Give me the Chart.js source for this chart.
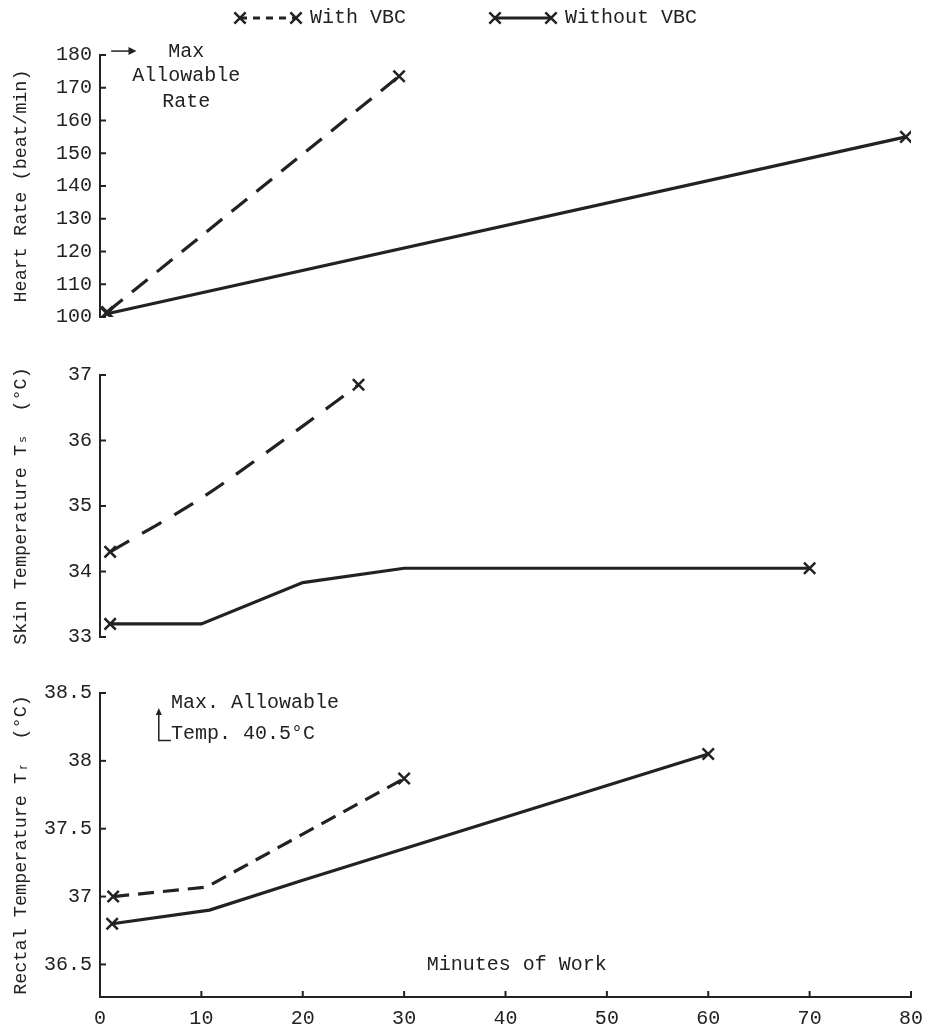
<!DOCTYPE html>
<html lang="en">
<head>
  <meta charset="UTF-8">
  <title>Heart rate, skin and rectal temperature vs minutes of work</title>
  <script src="https://cdn.jsdelivr.net/npm/chart.js"></script>
  <style>
    body { margin: 0; background: #fff; }
    .panel { position: absolute; left: 0; width: 927px; }
  </style>
</head>
<body>
  <div class="panel" style="top:0"><canvas id="heart" width="927" height="340"></canvas></div>
  <div class="panel" style="top:340px"><canvas id="skin" width="927" height="330"></canvas></div>
  <div class="panel" style="top:670px"><canvas id="rectal" width="927" height="362"></canvas></div>

  <script>
    // values
    const minuteTicks = [0, 10, 20, 30, 40, 50, 60, 70, 80];
    const heartTicks = [100, 110, 120, 130, 140, 150, 160, 170, 180];
    const skinTicks = [33, 34, 35, 36, 37];
    const rectalTicks = [36.5, 37, 37.5, 38, 38.5];

    const heartWithMin = [0.7, 29.5];
    const heartWithRate = [101.5, 173.5];
    const heartWithoutMin = [0.7, 79.5];
    const heartWithoutRate = [101, 155];

    const skinWithMin = [1, 10, 20, 25.5];
    const skinWithTemp = [34.3, 35.12, 36.22, 36.85];
    const skinWithoutMin = [1, 10, 20, 30, 70];
    const skinWithoutTemp = [33.2, 33.2, 33.83, 34.05, 34.05];

    const rectalWithMin = [1.3, 10.5, 30];
    const rectalWithTemp = [37.0, 37.07, 37.87];
    const rectalWithoutMin = [1.2, 10.8, 20, 60];
    const rectalWithoutTemp = [36.8, 36.9, 37.12, 38.05];

    const INK = '#222';
    const FONT = "'Liberation Mono', 'DejaVu Sans Mono', monospace";

    function pts(xs, ys) { return xs.map((x, i) => ({ x: x, y: ys[i] })); }

    // crosses only at the ends of a line
    function endPoints(ctx) {
      const n = ctx.dataset.data.length;
      return (ctx.dataIndex === 0 || ctx.dataIndex === n - 1) ? 8 : 0;
    }

    function series(label, xs, ys, dash, tension) {
      return {
        label: label,
        data: pts(xs, ys),
        borderColor: INK,
        backgroundColor: INK,
        borderWidth: 3.2,
        borderDash: dash,
        pointStyle: 'crossRot',
        pointRadius: endPoints,
        pointBorderWidth: 2.5,
        pointBorderColor: INK,
        tension: tension || 0
      };
    }

    // small ticks pointing into the plot
    const innerTicks = {
      id: 'innerTicks',
      afterDraw(chart) {
        const c = chart.ctx;
        c.save();
        c.strokeStyle = INK;
        c.lineWidth = 2;
        const y = chart.scales.y;
        y.ticks.forEach(t => {
          const py = y.getPixelForValue(t.value);
          c.beginPath(); c.moveTo(y.right, py); c.lineTo(y.right + 6, py); c.stroke();
        });
        const x = chart.scales.x;
        if (x.options.display) {
          x.ticks.forEach(t => {
            const px = x.getPixelForValue(t.value);
            c.beginPath(); c.moveTo(px, x.top); c.lineTo(px, x.top - 6); c.stroke();
          });
        }
        c.restore();
      }
    };

    // notes written on the figure
    const notes = {
      id: 'notes',
      afterDraw(chart, args, opts) {
        const c = chart.ctx, x = chart.scales.x, y = chart.scales.y;
        c.save();
        c.fillStyle = INK; c.strokeStyle = INK; c.lineWidth = 1.5;
        c.font = '20px ' + FONT;
        c.textBaseline = 'middle';
        if (opts.kind === 'heart') {
          const ay = y.getPixelForValue(181.2);
          const x1 = x.getPixelForValue(1.1), x2 = x.getPixelForValue(3.6);
          c.beginPath(); c.moveTo(x1, ay); c.lineTo(x2 - 6, ay); c.stroke();
          c.beginPath(); c.moveTo(x2, ay); c.lineTo(x2 - 8, ay - 4); c.lineTo(x2 - 8, ay + 4); c.closePath(); c.fill();
          c.textAlign = 'center';
          const cx = x.getPixelForValue(8.5);
          c.fillText('Max', cx, y.getPixelForValue(180.9));
          c.fillText('Allowable', cx, y.getPixelForValue(173.8));
          c.fillText('Rate', cx, y.getPixelForValue(165.6));

          // legend line at the very top
          const legend = [
            { x: 240, label: 'With VBC', dash: [7, 6] },
            { x: 495, label: 'Without VBC', dash: [] }
          ];
          const ly = 18;
          legend.forEach(l => {
            c.lineWidth = 3;
            c.setLineDash(l.dash);
            c.beginPath(); c.moveTo(l.x, ly); c.lineTo(l.x + 56, ly); c.stroke();
            c.setLineDash([]);
            c.lineWidth = 2.5;
            Chart.helpers.drawPoint(c, { pointStyle: 'crossRot', radius: 8, borderWidth: 2.5 }, l.x, ly);
            Chart.helpers.drawPoint(c, { pointStyle: 'crossRot', radius: 8, borderWidth: 2.5 }, l.x + 56, ly);
            c.textAlign = 'left';
            c.fillText(l.label, l.x + 70, ly);
          });
        }
        if (opts.kind === 'rectal') {
          const ax = x.getPixelForValue(5.8);
          const top = y.getPixelForValue(38.39), bot = y.getPixelForValue(38.15);
          c.beginPath(); c.moveTo(ax, top + 5); c.lineTo(ax, bot); c.lineTo(x.getPixelForValue(7), bot); c.stroke();
          c.beginPath(); c.moveTo(ax, top); c.lineTo(ax - 3, top + 7); c.lineTo(ax + 3, top + 7); c.closePath(); c.fill();
          c.textAlign = 'left';
          const tx = x.getPixelForValue(7);
          c.fillText('Max. Allowable', tx, y.getPixelForValue(38.43));
          c.fillText('Temp. 40.5°C', tx, y.getPixelForValue(38.2));
          c.textAlign = 'center';
          c.fillText('Minutes of Work', x.getPixelForValue(41.1), y.getPixelForValue(36.5));
        }
        c.restore();
      }
    };

    function makeChart(id, opt) {
      return new Chart(document.getElementById(id), {
        type: 'line',
        data: { datasets: opt.datasets },
        options: {
          responsive: false,
          animation: false,
          layout: { padding: opt.padding, autoPadding: false },
          plugins: {
            legend: { display: false },
            tooltip: { enabled: false },
            notes: { kind: id }
          },
          scales: {
            x: {
              type: 'linear',
              min: 0, max: 80,
              display: opt.showX,
              afterBuildTicks: s => { s.ticks = minuteTicks.map(v => ({ value: v })); },
              afterFit: s => {
                s.height = opt.showX ? 35 : 0;
                s.paddingLeft = 0;
                s.paddingRight = 0;
              },
              border: { display: true, color: INK, width: 2 },
              grid: { drawOnChartArea: false, drawTicks: false },
              ticks: { color: INK, padding: 10, font: { family: FONT, size: 20 } }
            },
            y: {
              type: 'linear',
              min: opt.yMin, max: opt.yMax,
              afterBuildTicks: s => { s.ticks = opt.yTicks.map(v => ({ value: v })); },
              afterFit: s => { s.width = 100; },
              border: { display: true, color: INK, width: 2 },
              grid: { drawOnChartArea: false, drawTicks: false },
              ticks: {
                color: INK, padding: 8,
                font: { family: FONT, size: 20 },
                callback: v => String(v)
              },
              title: {
                display: true,
                text: opt.yTitle,
                color: INK,
                padding: { top: 10, bottom: 0 },
                font: { family: FONT, size: 18.5 }
              }
            }
          }
        },
        plugins: [innerTicks, notes]
      });
    }

    makeChart('heart', {
      datasets: [
        series('With VBC', heartWithMin, heartWithRate, [20, 12]),
        series('Without VBC', heartWithoutMin, heartWithoutRate, [])
      ],
      yMin: 100, yMax: 180, yTicks: heartTicks,
      yTitle: 'Heart Rate (beat/min)',
      showX: false,
      padding: { top: 55, bottom: 23, left: 0, right: 16 }
    });

    makeChart('skin', {
      datasets: [
        series('With VBC', skinWithMin, skinWithTemp, [22, 15], 0.3),
        series('Without VBC', skinWithoutMin, skinWithoutTemp, [])
      ],
      yMin: 33, yMax: 37, yTicks: skinTicks,
      yTitle: 'Skin Temperature Tₛ  (°C)',
      showX: false,
      padding: { top: 35, bottom: 33, left: 0, right: 16 }
    });

    makeChart('rectal', {
      datasets: [
        series('With VBC', rectalWithMin, rectalWithTemp, [16, 9]),
        series('Without VBC', rectalWithoutMin, rectalWithoutTemp, [])
      ],
      yMin: 36.26, yMax: 38.5, yTicks: rectalTicks,
      yTitle: 'Rectal Temperature Tᵣ  (°C)',
      showX: true,
      padding: { top: 23, bottom: 0, left: 0, right: 16 }
    });
  </script>
</body>
</html>
